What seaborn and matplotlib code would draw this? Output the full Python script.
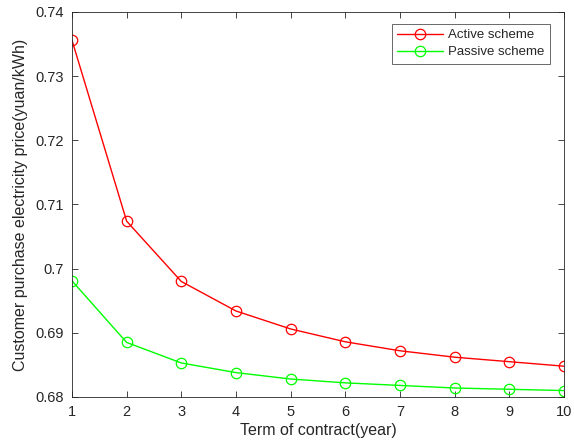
import matplotlib
matplotlib.use("Agg")
import matplotlib.pyplot as plt
import pandas as pd
import seaborn as sns

# values
years = [1, 2, 3, 4, 5, 6, 7, 8, 9, 10]
active = [0.7356, 0.7074, 0.6980, 0.6934, 0.6906, 0.6886, 0.6872, 0.6862, 0.6855, 0.6848]
passive = [0.6981, 0.6885, 0.6853, 0.6838, 0.6828, 0.6822, 0.6818, 0.6814, 0.6812, 0.6810]
yticks = [0.68, 0.69, 0.70, 0.71, 0.72, 0.73, 0.74]
ytick_labels = ["0.68", "0.69", "0.7", "0.71", "0.72", "0.73", "0.74"]

df = pd.DataFrame({
    "year": years * 2,
    "price": active + passive,
    "scheme": ["Active scheme"] * len(years) + ["Passive scheme"] * len(years),
})

sns.set_style("ticks")
plt.rcParams["font.family"] = ["Liberation Sans", "DejaVu Sans"]
plt.rcParams["xtick.direction"] = "in"
plt.rcParams["ytick.direction"] = "in"

fig = plt.figure(figsize=(5.74, 4.44), dpi=100)
ax = fig.add_axes([0.1254, 0.1059, 0.8572, 0.8671])

sns.lineplot(data=df, x="year", y="price", hue="scheme",
             palette={"Active scheme": "#ff0000", "Passive scheme": "#00ff00"},
             marker="o", markersize=7.5, markerfacecolor="none",
             markeredgewidth=0.9, linewidth=1.0, ax=ax)
# markeredgecolor follows line color
for line in ax.lines:
    line.set_markeredgecolor(line.get_color())

ax.set_xlim(1, 10)
ax.set_ylim(0.68, 0.74)
ax.set_xticks(years)
ax.set_yticks(yticks)
ax.set_yticklabels(ytick_labels)
ax.tick_params(axis="both", which="both", top=True, right=True,
               labelsize=10.5, colors="#262626", length=4, width=0.6, pad=6)
for s in ax.spines.values():
    s.set_color("#262626")
    s.set_linewidth(0.6)

ax.set_xlabel("Term of contract(year)", fontsize=11.5, color="#262626", labelpad=3)
ax.set_ylabel("Customer purchase electricity price(yuan/kWh)", fontsize=11.5, color="#262626", labelpad=5)

leg = ax.legend(loc="upper right", bbox_to_anchor=(0.9715, 0.969), borderaxespad=0,
                fontsize=9.5, frameon=True, fancybox=False, edgecolor="#262626",
                borderpad=0.4, labelspacing=0.35, handlelength=3.5, handletextpad=0.4)
leg.get_frame().set_linewidth(0.6)

fig.savefig("out.png", dpi=100, facecolor="white")
